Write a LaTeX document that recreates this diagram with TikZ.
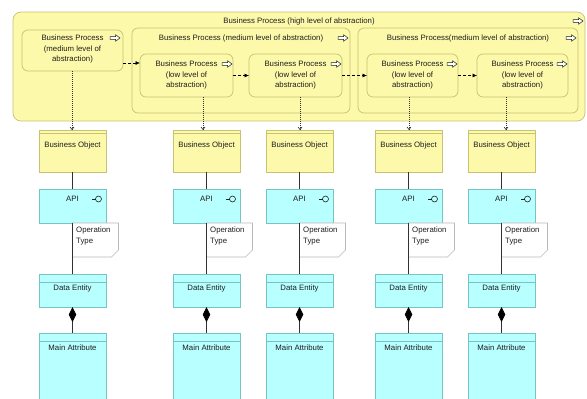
\documentclass[tikz,border=0pt]{standalone}
\usepackage{fontspec}
\setmainfont{Liberation Sans}
\usetikzlibrary{arrows.meta,calc}
\definecolor{bpfill}{RGB}{253,249,170}
\definecolor{bpdraw}{RGB}{200,194,115}
\definecolor{apfill}{RGB}{184,255,255}
\definecolor{apdraw}{RGB}{120,195,195}
\definecolor{ink}{RGB}{30,30,30}
\definecolor{lnk}{RGB}{50,50,50}
\definecolor{notedraw}{RGB}{185,185,185}
\tikzset{
  fnt/.style={font=\fontsize{7.8}{10.5}\selectfont, text=ink, inner sep=0pt, align=center},
  bpbox/.style={draw=bpdraw, fill=bpfill, rounded corners=6pt, line width=0.7pt, anchor=north west, inner sep=0pt, outer sep=0pt},
  boxn/.style={anchor=north west, inner sep=0pt, outer sep=0pt, line width=0.7pt},
  bobox/.style={boxn, draw=bpdraw, fill=bpfill},
  apbox/.style={boxn, draw=apdraw, fill=apfill},
  trig/.style={draw=black, dash pattern=on 3pt off 2pt, line width=0.6pt, -{Latex[length=4.5pt,width=4pt]}},
  acc/.style={draw=lnk, dash pattern=on 1pt off 1pt, line width=0.6pt, -{Straight Barb[length=2.5pt,width=4pt]}},
  conn/.style={draw=lnk, line width=0.7pt},
  procicon/.pic={\draw[ink, line width=0.5pt, fill=white] (-5,-1.3) -- (0.5,-1.3) -- (0.5,-3.3) -- (5,0) -- (0.5,3.3) -- (0.5,1.3) -- (-5,1.3) -- cycle;},
  ifaceicon/.pic={\draw[ink, line width=0.6pt] (-6.5,0) -- (-3,0); \draw[ink, line width=0.6pt] (0,0) circle[radius=3pt];},
}
\begin{document}
\begin{tikzpicture}[x=1pt,y=-1pt]
\useasboundingbox (0,0) rectangle (587,399);
\clip (0,0) rectangle (587,399);
% high level process
\node[bpbox, rounded corners=8pt, minimum width=572pt, minimum height=109pt] (hl) at (13,12) {};
\node[fnt] (hlt) at (299,21) {Business Process (high level of abstraction)};
\pic at (578,21) {procicon};
% medium 1
\node[bpbox, minimum width=101pt, minimum height=41pt] (med1) at (22,30) {};
\node[fnt] (med1t) at (72.5,49) {Business Process\\(medium level of\\abstraction)};
\pic at (115,38) {procicon};
% medium 2
\node[bpbox, minimum width=218pt, minimum height=85pt] (med2) at (132,28) {};
\node[fnt] (med2t) at (241,38) {Business Process (medium level of abstraction)};
\pic at (343,38) {procicon};
\node[bpbox, minimum width=93pt, minimum height=43pt] (low1) at (140,54) {};
\node[fnt] (low1t) at (186.5,75) {Business Process\\(low level of\\abstraction)};
\pic at (227,64) {procicon};
\node[bpbox, minimum width=93pt, minimum height=43pt] (low2) at (249,54) {};
\node[fnt] (low2t) at (295.5,75) {Business Process\\(low level of\\abstraction)};
\pic at (336,64) {procicon};
% medium 3
\node[bpbox, minimum width=220pt, minimum height=85pt] (med3) at (358,28) {};
\node[fnt] (med3t) at (468,38) {Business Process(medium level of abstraction)};
\pic at (571,38) {procicon};
\node[bpbox, minimum width=91pt, minimum height=43pt] (low3) at (367,54) {};
\node[fnt] (low3t) at (412.5,75) {Business Process\\(low level of\\abstraction)};
\pic at (452,64) {procicon};
\node[bpbox, minimum width=91pt, minimum height=43pt] (low4) at (477,54) {};
\node[fnt] (low4t) at (522.5,75) {Business Process\\(low level of\\abstraction)};
\pic at (562,64) {procicon};
% triggering
\coordinate (ty) at (0,63);
\draw[trig] (med1.east |- ty) -- (low1.west |- ty);
\draw[trig] (low1.east) -- (low2.west);
\draw[trig] (low2.east) -- (low3.west);
\draw[trig] (low3.east) -- (low4.west);
% columns
\foreach \i/\cx/\dx/\src in {1/72.5/72/med1, 2/206.5/203/low1, 3/299.5/300/low2, 4/408.5/409/low3, 5/501.5/506/low4} {
  \node[bobox, minimum width=67pt, minimum height=42pt] (bo\i) at (\cx-33.5,130) {};
  \draw[bpdraw, line width=0.6pt] ([yshift=-3pt]bo\i.north west) -- ([yshift=-3pt]bo\i.north east);
  \node[fnt] (bot\i) at (\cx,145) {Business Object};
  \node[apbox, minimum width=67pt, minimum height=34pt] (api\i) at (\cx-33.5,189) {};
  \node[fnt] (apit\i) at (\cx,199) {API};
  \pic at (\cx+26,199) {ifaceicon};
  \node[boxn, minimum width=46pt, minimum height=34pt] (ot\i) at (\cx,223) {};
  \draw[notedraw, fill=white, line width=0.6pt] (ot\i.north west) -- (ot\i.north east) -- ([yshift=7pt]ot\i.south east) -- ([xshift=-7pt]ot\i.south east) -- (ot\i.south west) -- cycle;
  \node[fnt, anchor=north west, align=left] (ott\i) at (\cx+3.5,227) {Operation\\Type};
  \node[apbox, minimum width=67pt, minimum height=33pt] (de\i) at (\cx-33.5,274) {};
  \draw[apdraw, line width=0.6pt] ([yshift=-8pt]de\i.north west) -- ([yshift=-8pt]de\i.north east);
  \node[fnt] (det\i) at (\cx,288.5) {Data Entity};
  \node[apbox, minimum width=67pt, minimum height=80pt] (ma\i) at (\cx-33.5,333) {};
  \draw[apdraw, line width=0.6pt] ([yshift=-8pt]ma\i.north west) -- ([yshift=-8pt]ma\i.north east);
  \node[fnt] (mat\i) at (\cx,348) {Main Attribute};
  \draw[conn] (bo\i.south) -- (api\i.north);
  \draw[conn] (api\i.south) -- (de\i.north);
  \draw[conn, -{Diamond[length=15pt,width=7.5pt,fill=black,color=black]}] (ma\i.north) -- (de\i.south);
  \coordinate (ax\i) at (\dx,0);
  \draw[acc] (\src.south -| ax\i) -- (bo\i.north -| ax\i);
}
\end{tikzpicture}
\end{document}
